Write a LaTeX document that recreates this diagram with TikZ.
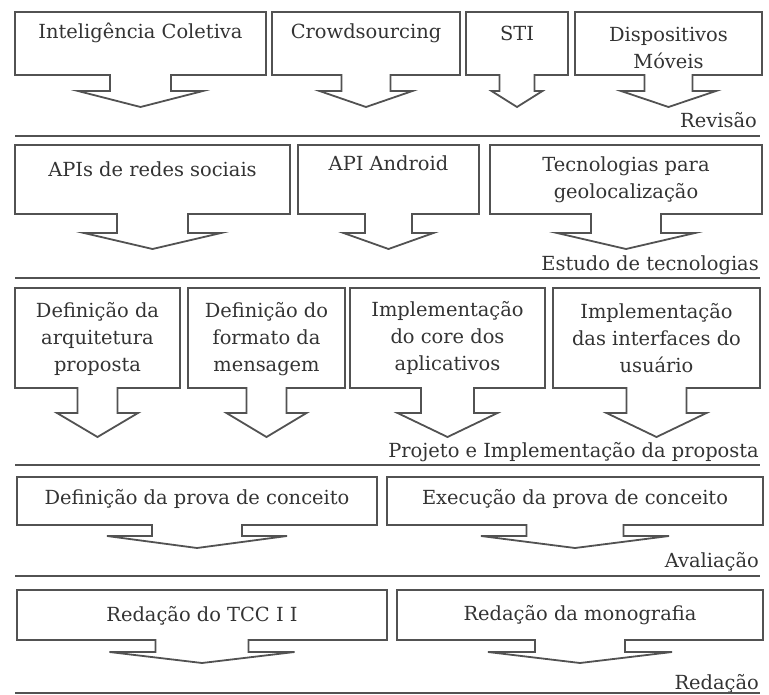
\documentclass[tikz,border=0pt]{standalone}
\usepackage{fontspec}
\setmainfont{DejaVu Serif}
\usepackage{tikz}

% vertical sizes of one row: box top, box bottom, stem end, arrow tip
\newcommand{\rowdims}[4]{\def\rowtop{#1}\def\rowbot{#2}\def\rowstem{#3}\def\rowtip{#4}}
% box with a down arrow: name, left, right, stem half width, head half width, text y, text
\newcommand{\callout}[7]{%
  \pgfmathsetmacro{\boxmid}{(#2+#3)/2}
  \draw[outline] (#2,\rowtop) -- (#3,\rowtop) -- (#3,\rowbot)
    -- (\boxmid+#4,\rowbot) -- (\boxmid+#4,\rowstem) -- (\boxmid+#5,\rowstem)
    -- (\boxmid,\rowtip) -- (\boxmid-#5,\rowstem) -- (\boxmid-#4,\rowstem)
    -- (\boxmid-#4,\rowbot) -- (#2,\rowbot) -- cycle;
  \node[boxtext] (#1) at (\boxmid,#6) {#7};
}

\begin{document}
\begin{tikzpicture}[
    x=1bp, y=-1bp,
    outline/.style={draw=black!68, line width=1.8bp},
    sep/.style={draw=black!68, line width=2.6bp},
    boxtext/.style={text=black!80, align=center, inner sep=0pt,
                    font=\fontsize{19.5}{27}\selectfont},
    phase/.style={text=black!80, anchor=base east, inner sep=0pt,
                  font=\fontsize{19.5}{27}\selectfont}
  ]
  \useasboundingbox (0,0) rectangle (769,695);

  % Revisao
  \rowdims{12}{75}{91}{107}
  \callout{intel}{15}{266}{30.5}{62.5}{33}{Inteligência Coletiva}
  \callout{crowd}{272}{460}{24.5}{46.5}{33}{Crowdsourcing}
  \callout{sti}{466}{568}{17.5}{25.5}{33}{STI}
  \callout{movel}{575}{762}{24}{47.5}{48}{Dispositivos\\Móveis}
  \node[phase] (revisao) at (757,128) {Revisão};

  % Estudo de tecnologias
  \rowdims{145}{214}{233}{249}
  \callout{apis}{15}{290}{35.5}{68.5}{169}{APIs de redes sociais}
  \callout{android}{298}{479}{23.5}{45}{163}{API Android}
  \callout{geo}{490}{762}{35}{69}{180}{Tecnologias para\\geolocalização}
  \node[phase] (estudo) at (759,270) {Estudo de tecnologias};

  % Projeto e implementacao
  \rowdims{288}{388}{413}{437}
  \callout{arq}{15}{180}{20}{40.5}{339}{Definição da\\arquitetura\\proposta}
  \callout{msg}{188}{345}{20}{40}{339}{Definição do\\formato da\\mensagem}
  \callout{core}{350}{545}{26.5}{50}{338}{Implementação\\do core dos\\aplicativos}
  \callout{ui}{553}{760}{30}{50}{338}{Implementação\\das interfaces do\\usuário}
  \node[phase] (projeto) at (759,457) {Projeto e Implementação da proposta};

  % Avaliacao
  \rowdims{477}{525}{536}{548}
  \callout{defprova}{17}{377}{45}{90}{499}{Definição da prova de conceito}
  \callout{execprova}{387}{763}{48.5}{94}{499}{Execução da prova de conceito}
  \node[phase] (avaliacao) at (759,567) {Avaliação};

  % Redacao
  \rowdims{590}{640}{652}{663}
  \callout{tcc}{17}{387}{46.5}{92.5}{616}{Redação do TCC I I}
  \callout{mono}{397}{763}{45}{92}{615}{Redação da monografia}
  \node[phase] (redacao) at (759,689) {Redação};

  \foreach \y in {136,278,465,576,693}
    \draw[sep] (15,\y) -- (760,\y);
\end{tikzpicture}
\end{document}
